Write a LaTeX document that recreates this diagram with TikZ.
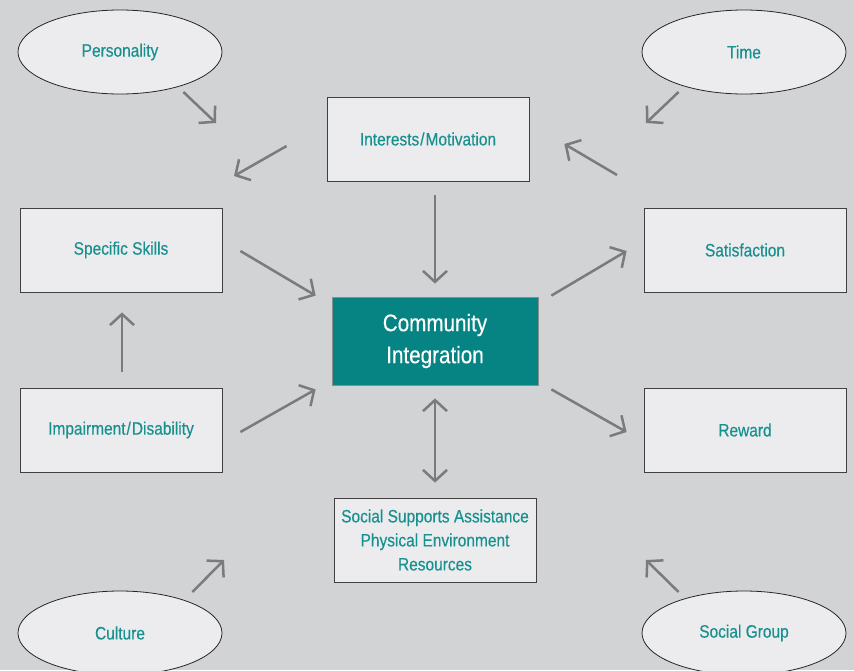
\documentclass[tikz,border=0pt]{standalone}
\usepackage{fontspec}
\setmainfont{Liberation Sans}[FakeStretch=0.86,FakeBold=0.3]
\usetikzlibrary{shapes.geometric,arrows.meta}

\definecolor{bggray}{HTML}{D2D3D5}
\definecolor{boxfill}{HTML}{ECECEE}
\definecolor{tealtext}{HTML}{17918F}
\definecolor{tealfill}{HTML}{068484}
\definecolor{arrowgray}{HTML}{7A7B7D}

\tikzset{
    factor/.style = {
        draw=black!75,
        line width=0.8pt,
        fill=boxfill,
        rectangle,
        minimum width=202pt,
        minimum height=84pt,
        text=tealtext,
        align=center,
        font=\fontsize{18}{24}\selectfont
    },
    outer/.style = {
        draw=black!85,
        line width=0.8pt,
        fill=boxfill,
        ellipse,
        minimum width=204pt,
        minimum height=84pt,
        text=tealtext,
        font=\fontsize{18}{24}\selectfont
    },
    core/.style = {
        draw=black!45,
        line width=0.8pt,
        fill=tealfill,
        minimum width=206pt,
        minimum height=88pt,
        text=white,
        align=center,
        font=\fontsize{24}{32}\selectfont
    },
    link/.style = {
        arrowgray,
        line width=2.5pt,
        -{Straight Barb[length=11pt,width=24pt]}
    },
    both/.style = {
        arrowgray,
        line width=2.5pt,
        {Straight Barb[length=11pt,width=24pt]}-{Straight Barb[length=11pt,width=24pt]}
    }
}

\begin{document}
\begin{tikzpicture}[x=1pt,y=-1pt]
    \fill[bggray] (0,0) rectangle (854,670);
    \useasboundingbox (0,0) rectangle (854,670);

    % Outer influences
    \node[outer] (personality) at (120,52) {Personality};
    \node[outer] (time)        at (744,52) {Time};
    \node[outer] (culture)     at (120,633) {Culture};
    \node[outer] (group)       at (744,633) {Social Group};

    % Factor boxes
    \node[factor] (interests)   at (428,139) {Interests\kern1pt/\kern1pt Motivation};
    \node[factor] (skills)      at (121,250) {Specific Skills};
    \node[factor] (satisfy)     at (745,250) {Satisfaction};
    \node[factor] (impairment)  at (121,430) {Impairment\kern1pt/\kern1pt Disability};
    \node[factor] (reward)      at (745,430) {Reward};
    \node[factor] (supports)    at (435,540) {Social Supports Assistance\\Physical Environment\\Resources};

    \node[core] (community) at (435,341) {Community\\Integration};

    % Free arrow ends
    \coordinate (pers-tip)  at (216,123);
    \coordinate (time-tip)  at (646,123);
    \coordinate (int-tip)   at (234,176);
    \coordinate (int-tail)  at (617,175);
    \coordinate (cult-tip)  at (224,560);
    \coordinate (group-tip) at (646,560);

    % Draw arrows around the edges
    \draw[link] ([shift={(-9,10)}]personality.south east) -- (pers-tip);
    \draw[link] ([shift={(7,10)}]time.south west) -- (time-tip);
    \draw[link] ([shift={(-40,7)}]interests.west) -- (int-tip);
    \draw[link] (int-tail) -- ([shift={(35,5)}]interests.east);
    \draw[link] ([shift={(0,-11)}]culture.north east) -- (cult-tip);
    \draw[link] ([shift={(7,-11)}]group.north west) -- (group-tip);

    % Draw arrows to and from the centre
    \draw[link] ([shift={(7,14)}]interests.south) -- ([shift={(0,-13)}]community.north);
    \draw[link] ([shift={(18,1)}]skills.east) -- ([shift={(-16,-1)}]community.north west);
    \draw[link] ([shift={(18,2)}]impairment.east) -- ([shift={(-16,4)}]community.south west);
    \draw[link] ([shift={(13,-1)}]community.north east) -- ([shift={(-17,1)}]satisfy.west);
    \draw[link] ([shift={(13,4)}]community.south east) -- ([shift={(-17,2)}]reward.west);
    \draw[link] ([shift={(1,-16)}]impairment.north) -- ([shift={(1,20)}]skills.south);
    \draw[both] ([shift={(0,13)}]community.south) -- ([shift={(0,-15)}]supports.north);
\end{tikzpicture}
\end{document}
